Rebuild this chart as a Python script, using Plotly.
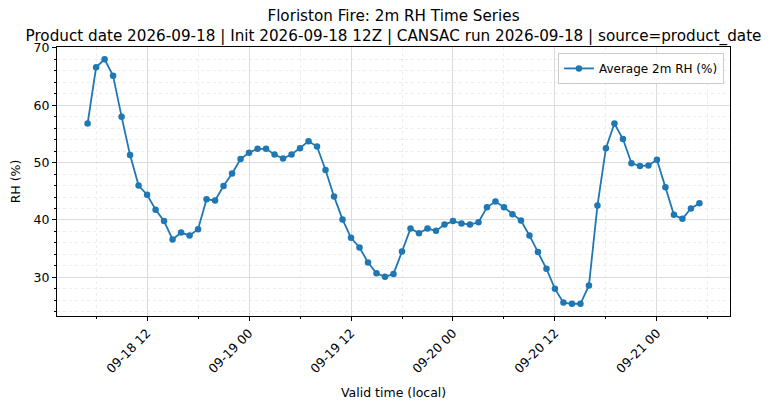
import pandas as pd
import plotly.graph_objects as go

# hourly valid times (local), 09-18 05:00 .. 09-21 05:00
times = pd.date_range("2026-09-18 05:00", "2026-09-21 05:00", freq="h")

# average 2m RH (%)
rh = [56.8, 66.6, 68.0, 65.1, 58.0, 51.3, 46.0, 44.4, 41.8, 39.8,
      36.6, 37.8, 37.3, 38.4, 43.6, 43.4, 45.9, 48.1, 50.6, 51.7,
      52.4, 52.4, 51.4, 50.7, 51.4, 52.5, 53.7, 52.8, 48.7, 44.1,
      40.1, 36.9, 35.2, 32.6, 30.7, 30.1, 30.6, 34.5, 38.5, 37.7,
      38.5, 38.1, 39.2, 39.8, 39.4, 39.2, 39.6, 42.2, 43.2, 42.2,
      41.0, 39.9, 37.3, 34.4, 31.5, 28.0, 25.6, 25.4, 25.4, 28.6,
      42.5, 52.5, 56.8, 54.1, 49.9, 49.4, 49.5, 50.5, 45.7, 40.9,
      40.2, 42.0, 42.9]

title_txt = ("Floriston Fire: 2m RH Time Series<br>"
             "Product date 2026-09-18 | Init 2026-09-18 12Z | CANSAC run 2026-09-18 | source=product_date")

BLUE = "#1f77b4"
HOUR = 3600 * 1000

# matplotlib-like 5% margins
span = times[-1] - times[0]
xr = [times[0] - span * 0.05, times[-1] + span * 0.05]
ymin, ymax = min(rh), max(rh)
yr = [ymin - (ymax - ymin) * 0.05, ymax + (ymax - ymin) * 0.05]

fig = go.Figure()
fig.add_trace(go.Scatter(x=times, y=rh, mode="lines+markers", name="Average 2m RH (%)",
                         line=dict(color=BLUE, width=1.8),
                         marker=dict(color=BLUE, size=6.5)))

axis_common = dict(showline=True, linecolor="black", linewidth=1, mirror=True,
                   ticks="outside", ticklen=4, tickcolor="black", automargin=False,
                   showgrid=True, gridcolor="#dcdcdc", gridwidth=1, zeroline=False,
                   tickfont=dict(size=12.5, color="black"))

# page has an 8px body margin, so margins are shifted by 8px
fig.update_layout(
    width=775, height=409,
    paper_bgcolor="white", plot_bgcolor="white",
    font=dict(family="DejaVu Sans", color="black"),
    margin=dict(l=49, r=53, t=39, b=101),
    title=dict(text=title_txt, x=(49 + 722) / 2 / 775, xanchor="center",
               y=1 - 13 / 409, yref="container", yanchor="top",
               font=dict(size=15.2)),
    showlegend=True,
    legend=dict(x=0.991, xanchor="right", y=0.978, yanchor="top",
                bgcolor="rgba(255,255,255,0.85)", bordercolor="#cccccc", borderwidth=1,
                font=dict(size=12)),
    xaxis=dict(axis_common, range=xr, tick0="2026-09-18 00:00", dtick=12 * HOUR,
               tickformat="%m-%d %H", tickangle=-45,
               minor=dict(dtick=6 * HOUR, ticks="outside", ticklen=2, tickcolor="black",
                          showgrid=True, gridcolor="#ececec", griddash="dot")),
    yaxis=dict(axis_common, range=yr, dtick=10,
               title=dict(text="RH (%)", font=dict(size=12.5), standoff=19),
               minor=dict(dtick=2, ticks="outside", ticklen=2, tickcolor="black",
                          showgrid=True, gridcolor="#ececec", griddash="dot")),
)

# x-axis title as an annotation below the rotated tick labels
fig.add_annotation(text="Valid time (local)", xref="paper", yref="paper", x=0.5, y=0,
                   xanchor="center", yanchor="middle", yshift=-76, showarrow=False,
                   font=dict(size=12.5))

fig.write_html("out.html")
